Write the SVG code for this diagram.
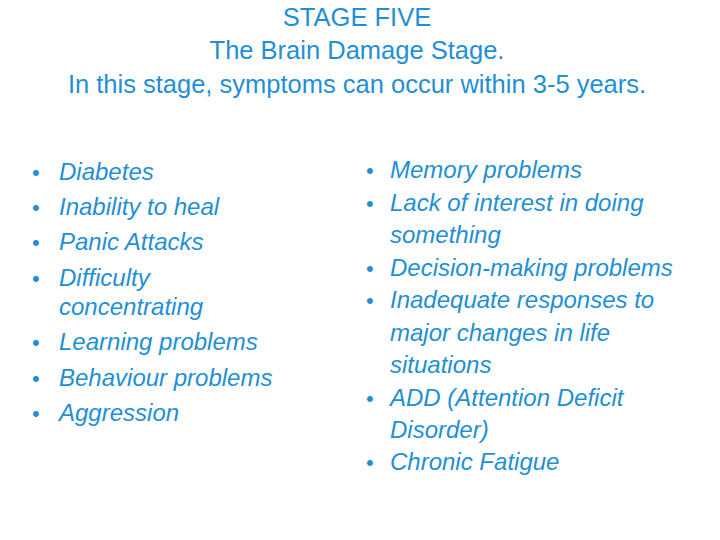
<svg xmlns="http://www.w3.org/2000/svg" width="720" height="540" viewBox="0 0 720 540">
<style>
text{font-family:"Liberation Sans",Arial,sans-serif;fill:#1f8fd6}
.t{font-size:25.5px;text-anchor:middle}
.l{font-size:24px;font-style:italic}
.b{font-size:22px}
</style>
<rect width="720" height="540" fill="#fff"/>
<g id="title">
<text class="t" x="357" y="26">STAGE FIVE</text>
<text class="t" x="357" y="59">The Brain Damage Stage.</text>
<text class="t" x="357" y="93">In this stage, symptoms can occur within 3-5 years.</text>
</g>
<g id="left">
<text class="b" x="32" y="180">•</text><text class="l" x="59" y="180">Diabetes</text>
<text class="b" x="32" y="215">•</text><text class="l" x="59" y="215">Inability to heal</text>
<text class="b" x="32" y="250">•</text><text class="l" x="59" y="250">Panic Attacks</text>
<text class="b" x="32" y="286">•</text><text class="l" x="59" y="286">Difficulty</text>
<text class="l" x="59" y="315">concentrating</text>
<text class="b" x="32" y="350">•</text><text class="l" x="59" y="350">Learning problems</text>
<text class="b" x="32" y="386">•</text><text class="l" x="59" y="386">Behaviour problems</text>
<text class="b" x="32" y="421">•</text><text class="l" x="59" y="421">Aggression</text>
</g>
<g id="right">
<text class="b" x="366" y="178">•</text><text class="l" x="390" y="178">Memory problems</text>
<text class="b" x="366" y="211">•</text><text class="l" x="390" y="211">Lack of interest in doing</text>
<text class="l" x="390" y="243">something</text>
<text class="b" x="366" y="276">•</text><text class="l" x="390" y="276">Decision-making problems</text>
<text class="b" x="366" y="308">•</text><text class="l" x="390" y="308">Inadequate responses to</text>
<text class="l" x="390" y="341">major changes in life</text>
<text class="l" x="390" y="373">situations</text>
<text class="b" x="366" y="406">•</text><text class="l" x="390" y="406">ADD (Attention Deficit</text>
<text class="l" x="390" y="438">Disorder)</text>
<text class="b" x="366" y="470">•</text><text class="l" x="390" y="470">Chronic Fatigue</text>
</g>
</svg>
